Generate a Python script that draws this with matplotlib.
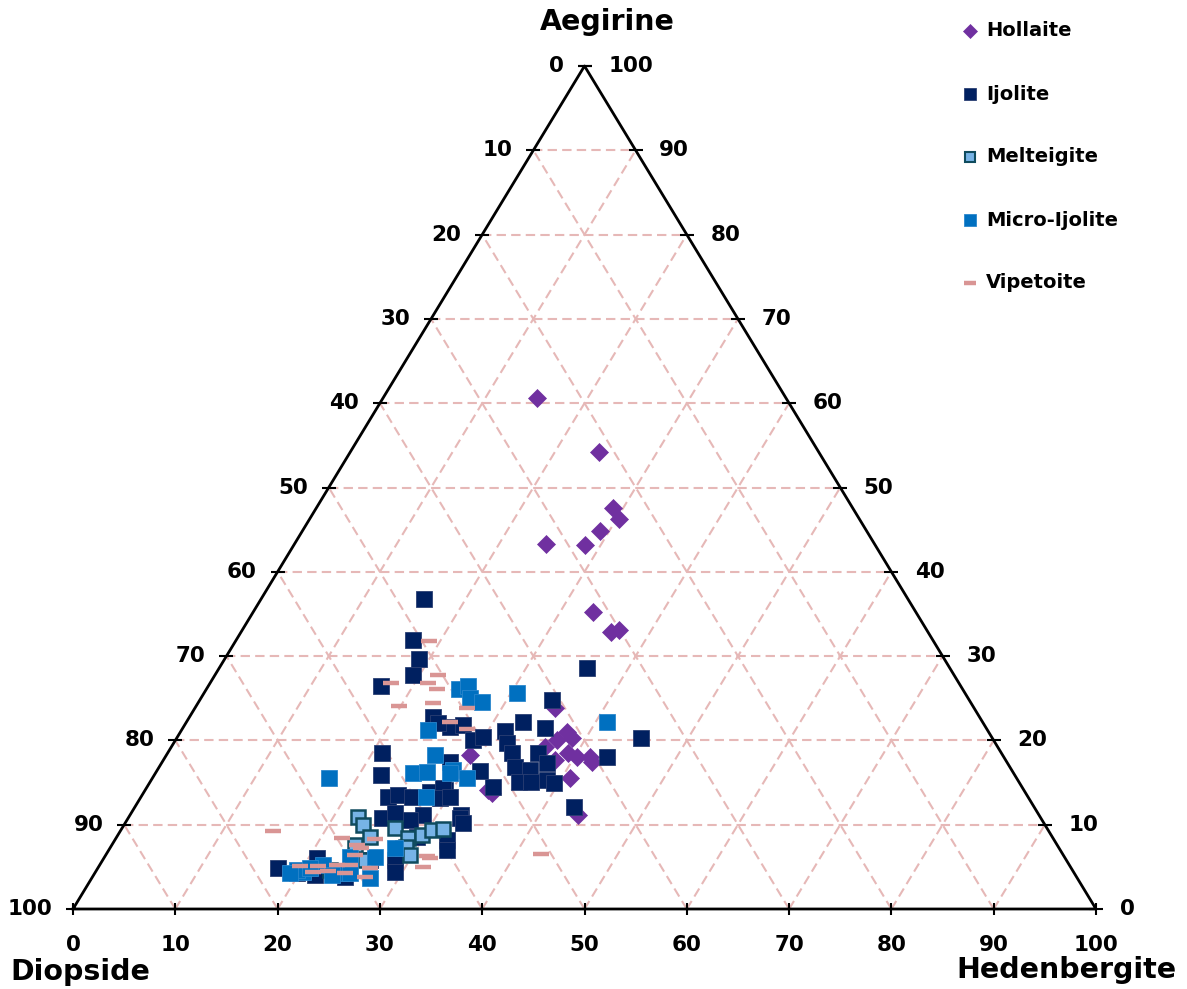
import matplotlib.pyplot as plt

# ternary data, percent: ae = Aegirine, hd = Hedenbergite (Diopside = 100 - ae - hd)
hollaite_ae = [60.6, 54.2, 47.6, 46.3, 44.8, 43.3, 43.2, 35.2, 32.9, 33.1, 23.8, 21.0, 20.0,
               20.3, 19.2, 18.5, 18.0, 18.0, 17.4, 17.7, 18.3, 15.5, 14.1, 13.8, 11.1]
hollaite_hd = [15.1, 24.3, 29.0, 30.2, 29.1, 24.6, 28.4, 33.2, 36.1, 36.8, 35.2, 37.8, 37.3,
               38.6, 36.5, 39.1, 40.3, 41.5, 42.0, 38.3, 29.7, 40.8, 33.5, 34.1, 43.8]

ijolite_ae = [36.8, 31.9, 29.7, 27.8, 26.4, 28.6, 24.8, 22.8, 21.6, 21.8, 22.1, 20.0, 20.4,
              21.1, 22.2, 21.5, 19.7, 18.5, 18.5, 16.8, 16.5, 17.3, 15.1, 15.1, 15.3, 14.9,
              16.4, 14.5, 17.4, 18.0, 20.3, 12.1, 11.1, 14.1, 18.5, 15.9, 13.3, 13.5, 13.3,
              13.9, 14.4, 13.2, 13.3, 10.8, 11.1, 10.8, 10.2, 8.2, 7.0, 5.8, 4.4, 5.8, 7.2,
              8.5, 4.9, 6.0, 4.3, 3.8, 4.0, 10.6, 11.4]
ijolite_hd = [15.9, 17.3, 19.0, 19.3, 16.9, 35.9, 34.4, 23.8, 26.1, 27.2, 24.6, 29.1, 29.9,
              31.7, 32.9, 35.4, 32.6, 33.7, 36.2, 34.8, 36.4, 37.7, 36.0, 37.2, 38.7, 39.6,
              31.6, 33.8, 28.2, 43.2, 45.4, 42.9, 32.4, 29.3, 21.0, 22.2, 24.1, 25.0, 26.5,
              27.9, 29.0, 29.3, 30.2, 24.8, 28.7, 32.4, 33.0, 32.5, 33.1, 28.6, 29.3, 26.1,
              28.7, 29.4, 17.6, 20.9, 19.7, 24.7, 21.7, 27.6, 25.8]

melteigite_ae = [10.9, 10.0, 8.5, 7.6, 9.6, 8.4, 7.4, 6.4, 8.8, 9.4, 9.5, 5.8, 4.6]
melteigite_hd = [22.4, 23.3, 24.8, 23.8, 26.7, 28.5, 28.9, 29.7, 29.7, 30.4, 31.4, 25.6, 22.8]

micro_ae = [15.5, 25.6, 22.2, 26.1, 26.4, 25.0, 24.6, 21.2, 18.3, 16.1, 16.2, 16.5, 15.5,
            16.1, 13.3, 7.2, 6.2, 4.3, 4.4, 5.2, 4.6, 4.9, 4.0, 4.3, 3.7, 4.3, 6.2]
micro_hd = [17.3, 30.6, 41.1, 24.7, 25.4, 26.3, 27.7, 24.1, 26.2, 25.2, 26.5, 28.9, 30.8,
            28.8, 27.9, 27.9, 26.4, 24.0, 20.3, 21.8, 19.6, 20.7, 23.3, 24.9, 27.2, 19.1, 24.0]

vipetoite_ae = [31.8, 27.8, 26.8, 26.1, 26.8, 24.1, 24.4, 23.8, 22.2, 21.3, 9.3, 6.5, 8.4,
                8.3, 7.6, 7.2, 6.4, 6.3, 6.0, 5.0, 5.1, 5.1, 5.2, 5.2, 4.4, 4.3, 4.9, 3.8, 4.5]
vipetoite_hd = [18.9, 21.8, 21.3, 22.5, 17.7, 19.8, 23.0, 26.6, 25.8, 27.9, 14.9, 42.5, 22.1,
                25.4, 24.0, 24.6, 24.4, 31.5, 31.9, 31.7, 19.6, 21.4, 23.2, 24.5, 21.3, 24.4,
                26.6, 26.6, 22.7]

names = ['Hollaite', 'Ijolite', 'Melteigite', 'Micro-Ijolite', 'Vipetoite']


def tern(ae, hd):
    # x along the Diopside-Hedenbergite base, y = aegirine height
    return [h + a / 2 for a, h in zip(ae, hd)], ae


W, H = 1187, 989
fig = plt.figure(figsize=(W / 100, H / 100), dpi=100)
ax = fig.add_axes([73 / W, 80 / H, 1023 / W, 843 / H])
ax.set_xlim(0, 100)
ax.set_ylim(0, 100)
ax.axis('off')

grid_c = '#E6B8B7'
dash = (0, (4.5, 2.5))
for k in range(10, 100, 10):
    ax.plot([k / 2, 100 - k / 2], [k, k], color=grid_c, lw=1.5, ls=dash, zorder=1)
    ax.plot([k, k + (100 - k) / 2], [0, 100 - k], color=grid_c, lw=1.5, ls=dash, zorder=1)
    ax.plot([100 - k, (100 - k) / 2], [0, 100 - k], color=grid_c, lw=1.5, ls=dash, zorder=1)

ax.plot([0, 100, 50, 0], [0, 0, 100, 0], color='black', lw=2, zorder=2, clip_on=False)

fs = 15.5
for k in range(0, 101, 10):
    ax.plot(k, 0, marker='|', ms=9, mew=1.5, color='black', clip_on=False, zorder=2)
    ax.plot(k / 2, k, marker='_', ms=10, mew=1.5, color='black', clip_on=False, zorder=2)
    ax.plot(100 - k / 2, k, marker='_', ms=10, mew=1.5, color='black', clip_on=False, zorder=2)
    ax.annotate(str(k), (k, 0), xytext=(0, -26), textcoords='offset points',
                ha='center', va='center', fontsize=fs, fontweight='bold')
    ax.annotate(str(100 - k), (k / 2, k), xytext=(-15, 0), textcoords='offset points',
                ha='right', va='center', fontsize=fs, fontweight='bold')
    ax.annotate(str(k), (100 - k / 2, k), xytext=(17, 0), textcoords='offset points',
                ha='left', va='center', fontsize=fs, fontweight='bold')

styles = [
    dict(marker='D', ms=9, color='#7030A0', mec='#7030A0', mew=0.5, ls='none'),
    dict(marker='s', ms=11.5, color='#002060', mec='#2B3F73', mew=0.6, ls='none'),
    dict(marker='s', ms=10.5, color='#77B3E6', mec='#0F4B5E', mew=1.8, ls='none'),
    dict(marker='s', ms=11.5, color='#0070C0', mec='#2A86CC', mew=0.6, ls='none'),
    dict(marker='_', ms=11, color='#D99594', mew=3.2, ls='none'),
]
series = [(hollaite_ae, hollaite_hd), (ijolite_ae, ijolite_hd), (melteigite_ae, melteigite_hd),
          (micro_ae, micro_hd), (vipetoite_ae, vipetoite_hd)]
for i, (ae, hd) in enumerate(series):
    x, y = tern(ae, hd)
    ax.plot(x, y, zorder=3 + i, clip_on=False, **styles[i])

# axis titles
fig.text(607 / W, 1 - 22 / H, 'Aegirine', ha='center', va='center', fontsize=20.5, fontweight='bold')
fig.text(80 / W, 1 - 972 / H, 'Diopside', ha='center', va='center', fontsize=20.5, fontweight='bold')
fig.text(1066 / W, 1 - 970 / H, 'Hedenbergite', ha='center', va='center', fontsize=20.5, fontweight='bold')

# legend
lax = fig.add_axes([0, 0, 1, 1])
lax.set_xlim(0, W)
lax.set_ylim(H, 0)
lax.axis('off')
leg_ms = [7, 8, 7.5, 8, 9]
for i, name in enumerate(names):
    yy = 31 + 63 * i
    st = dict(styles[i])
    st['ms'] = leg_ms[i]
    if i == 2:
        st['mew'] = 1.5
    lax.plot(970, yy, **st)
    lax.text(986, yy, name, ha='left', va='center', fontsize=14, fontweight='bold')

fig.savefig('out.png', dpi=100)
